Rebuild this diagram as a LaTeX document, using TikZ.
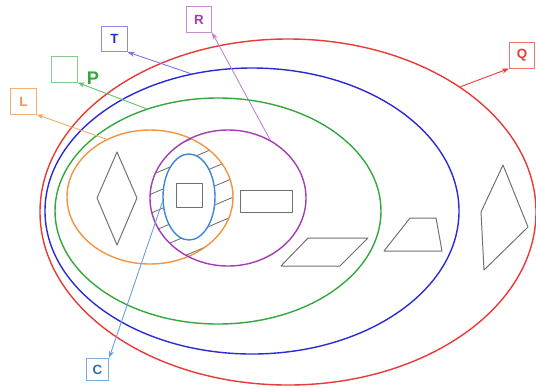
\documentclass[tikz,border=0pt]{standalone}
\usepackage{fontspec}
\setsansfont{Liberation Sans}
\usetikzlibrary{arrows.meta,shapes.geometric}
\definecolor{setred}{HTML}{E83A36}
\definecolor{setblue}{HTML}{2B2BD6}
\definecolor{setgreen}{HTML}{34A83C}
\definecolor{setorange}{HTML}{F39440}
\definecolor{setpurple}{HTML}{A23DB2}
\definecolor{setsky}{HTML}{3F86D6}
\definecolor{shapegray}{HTML}{707070}

\begin{document}
\begin{tikzpicture}[
  x=0.25mm, y=-0.25mm,
  font=\sffamily\bfseries\fontsize{9.5}{11}\selectfont,
  region/.style={ellipse, draw, line width=1pt, inner sep=0pt},
  tag/.style={draw, line width=0.6pt, minimum size=6.3mm, inner sep=0pt},
  pointer/.style={-{Stealth[length=1.8mm, width=1.3mm]}, line width=0.6pt},
  figure/.style={draw=shapegray, line width=0.7pt, line join=round},
  hatch/.style={draw=shapegray, line width=0.6pt}
]
\useasboundingbox (0,0) rectangle (536,387);

\node[region, draw=setred, minimum width=124mm, minimum height=86.5mm] (setQ) at (288,212) {};
\node[region, draw=setblue, minimum width=103.5mm, minimum height=71.5mm] (setT) at (252,211) {};
\node[region, draw=setgreen, minimum width=81.5mm, minimum height=56.5mm] (setP) at (218,211) {};

\begin{scope}
  \clip (150,197) ellipse [x radius=83, y radius=67];
  \clip (228,198) ellipse [x radius=78, y radius=68];
  \foreach \k in {-5,...,5}
    \draw[hatch] (130,{197+19*\k+25}) -- (250,{197+19*\k-26});
\end{scope}

\node[region, draw=setorange, minimum width=41.5mm, minimum height=33.5mm] (setL) at (150,197) {};
\node[region, draw=setpurple, minimum width=39mm, minimum height=34mm] (setR) at (228,198) {};
\node[region, draw=setsky, fill=white, minimum width=13mm, minimum height=21.5mm] (setC) at (189,197) {};

\draw[figure] (117,152) -- (137,198) -- (117,245) -- (97,198) -- cycle;
\draw[figure] (176,183) rectangle (202,207);
\draw[figure] (240,190) rectangle (292,212);
\draw[figure] (308,238) -- (368,238) -- (340,266) -- (281,266) -- cycle;
\draw[figure] (410,218) -- (436,218) -- (442,251) -- (384,251) -- cycle;
\draw[figure] (503,165) -- (528,227) -- (484,270) -- (481,212) -- cycle;

\node[tag, draw=setred!70, text=setred] (tagQ) at (522,55.5) {Q};
\node[tag, draw=setblue!55, text=setblue] (tagT) at (114.5,39) {T};
\node[tag, draw=setpurple!60, text=setpurple] (tagR) at (199,19.5) {R};
\node[tag, draw=setgreen!60] (tagP) at (64.5,69.5) {};
\node[text=setgreen, font=\sffamily\bfseries\fontsize{13}{15}\selectfont] (nameP) at (93,78) {P};
\node[tag, draw=setorange!75, text=setorange] (tagL) at (23.5,101.5) {L};
\node[tag, draw=setsky!70, text=setsky!80!black, minimum size=5.6mm] (tagC) at (97.5,369.5) {C};

\draw[pointer, draw=setred, fill=setred] (setQ.36) -- (tagQ.south west);
\draw[pointer, draw=setblue!65, fill=setblue!65] (setT.114) -- (tagT.south east);
\draw[pointer, draw=setpurple!65, fill=setpurple!65] (setR.54) -- (tagR.south east);
\draw[pointer, draw=setgreen!75, fill=setgreen!75] (setP.125) -- (tagP.south east);
\draw[pointer, draw=setorange!80, fill=setorange!80] (setL.127) -- (tagL.south east);
\draw[pointer, draw=setsky!80, fill=setsky!80] (setC.190) -- (tagC.north east);
\end{tikzpicture}
\end{document}
